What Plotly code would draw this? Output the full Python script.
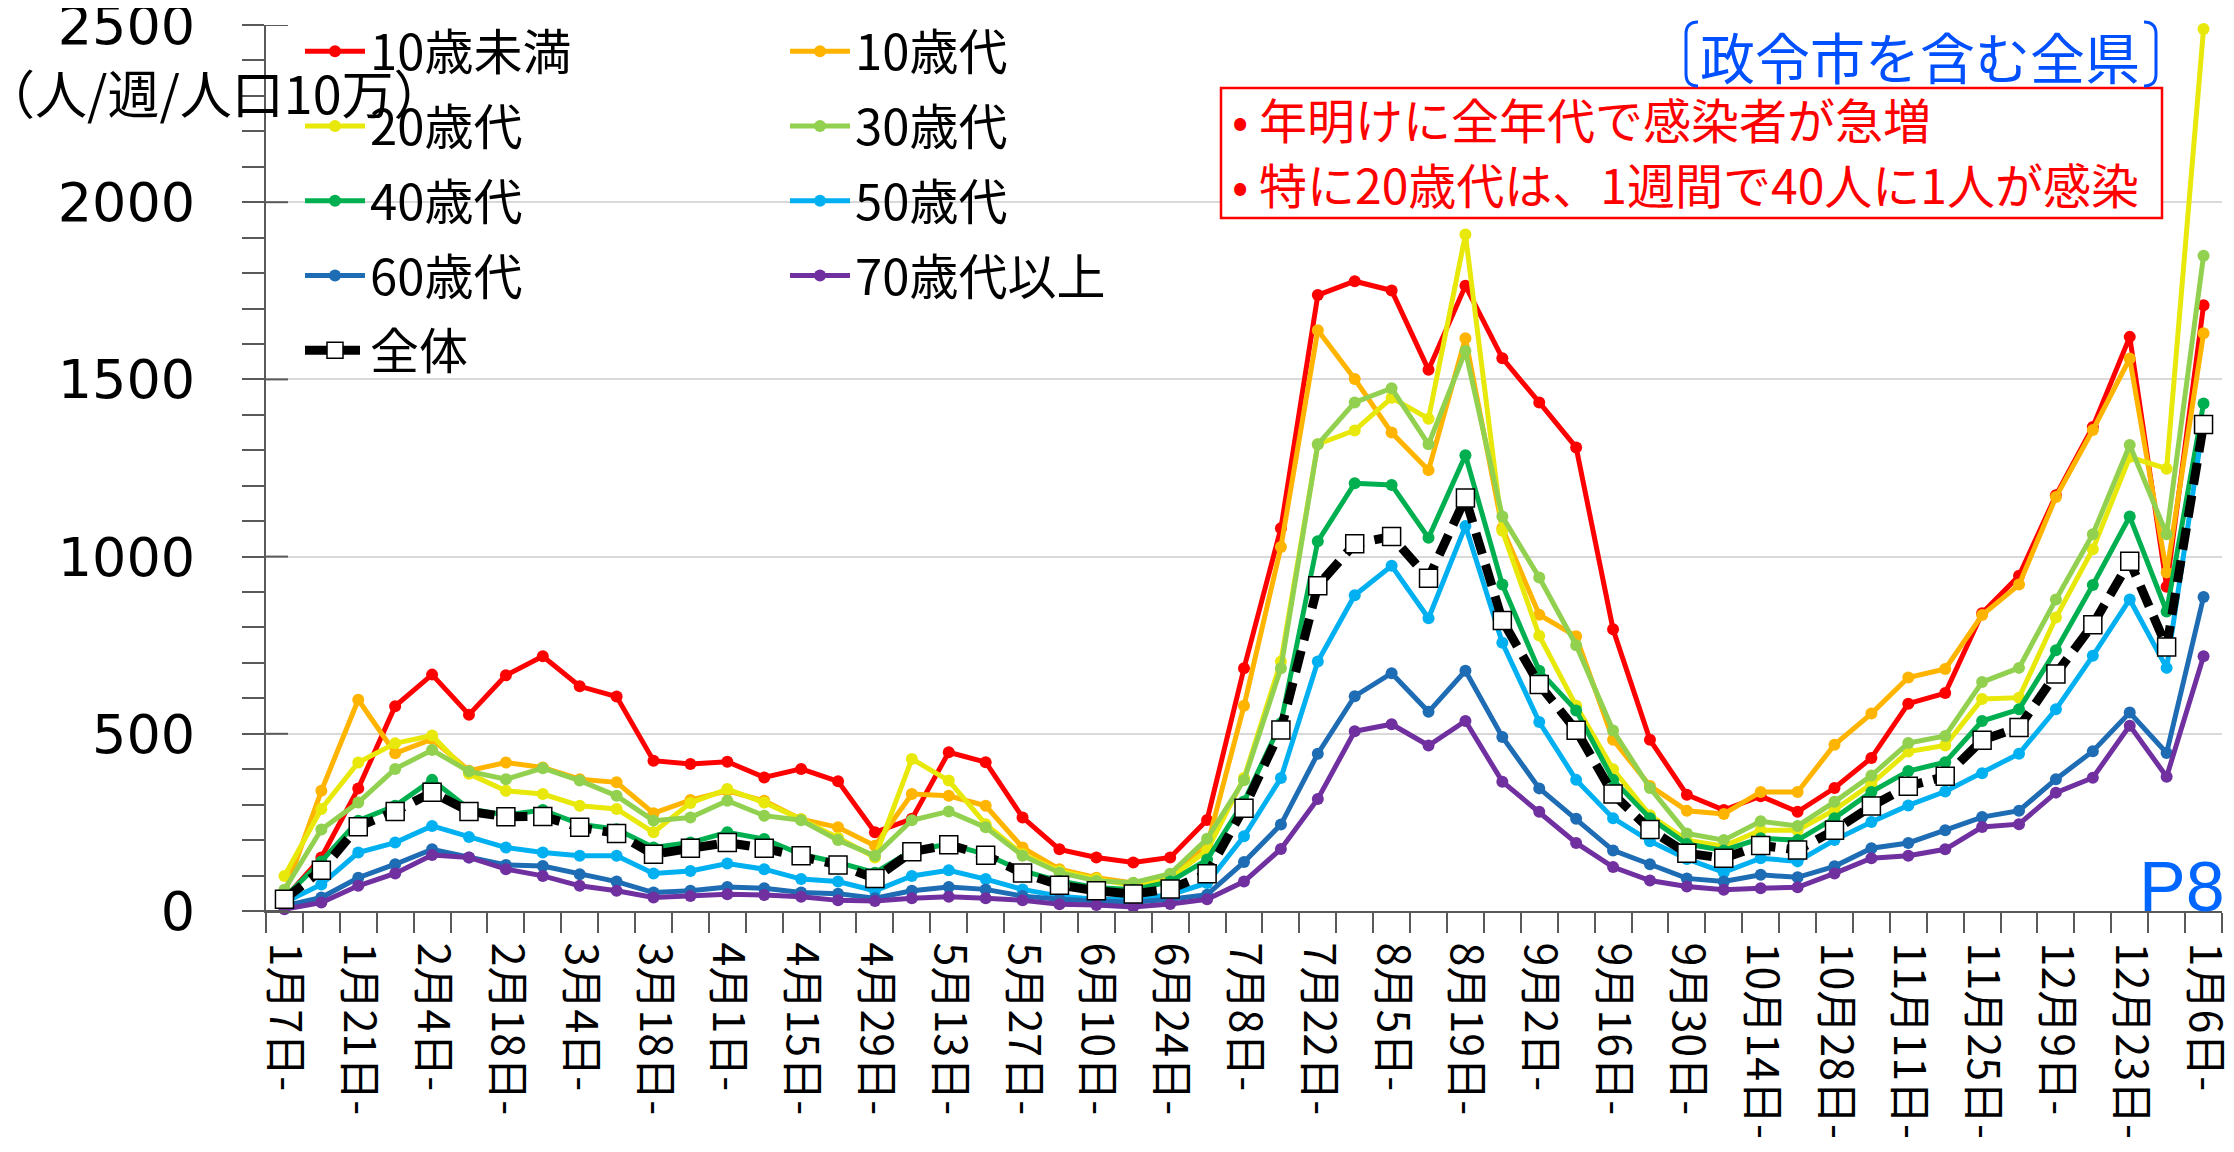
import plotly.graph_objects as go

# ---------------- data ----------------
weeks = ["1月7日-", "1月14日-", "1月21日-", "1月28日-", "2月4日-", "2月11日-", "2月18日-", "2月25日-",
         "3月4日-", "3月11日-", "3月18日-", "3月25日-", "4月1日-", "4月8日-", "4月15日-", "4月22日-",
         "4月29日-", "5月6日-", "5月13日-", "5月20日-", "5月27日-", "6月3日-", "6月10日-", "6月17日-",
         "6月24日-", "7月1日-", "7月8日-", "7月15日-", "7月22日-", "7月29日-", "8月5日-", "8月12日-",
         "8月19日-", "8月26日-", "9月2日-", "9月9日-", "9月16日-", "9月23日-", "9月30日-", "10月7日-",
         "10月14日-", "10月21日-", "10月28日-", "11月4日-", "11月11日-", "11月18日-", "11月25日-",
         "12月2日-", "12月9日-", "12月16日-", "12月23日-", "12月30日-", "1月6日-"]

age_under10 = [35, 151, 346, 578, 667, 554, 665, 719, 634, 605, 424, 415, 421, 377, 401, 366, 222, 260,
               448, 420, 264, 174, 151, 137, 151, 257, 685, 1080, 1738, 1777, 1751, 1527, 1764, 1560,
               1435, 1308, 795, 483, 328, 285, 324, 280, 347, 432, 585, 615, 840, 946, 1173, 1366, 1620,
               915, 1709]
age_10s = [50, 339, 596, 445, 485, 396, 419, 405, 372, 363, 276, 313, 339, 311, 259, 236, 184, 330, 325,
           297, 179, 118, 94, 79, 99, 184, 579, 1027, 1639, 1501, 1350, 1244, 1616, 1080, 836, 775, 483,
           353, 283, 274, 336, 336, 469, 557, 659, 683, 835, 921, 1168, 1357, 1559, 955, 1630]
age_20s = [99, 288, 419, 473, 495, 387, 339, 330, 297, 288, 222, 305, 344, 306, 259, 207, 151, 429, 368,
           245, 160, 113, 90, 72, 92, 171, 375, 704, 1317, 1356, 1448, 1389, 1909, 1073, 777, 579, 400,
           270, 200, 183, 228, 228, 285, 359, 450, 467, 598, 602, 828, 1021, 1281, 1248, 2489]
age_30s = [60, 230, 306, 401, 454, 394, 372, 403, 368, 325, 255, 264, 311, 269, 256, 200, 156, 256, 281,
           236, 156, 108, 85, 80, 105, 204, 369, 685, 1317, 1435, 1475, 1317, 1580, 1113, 941, 750, 509,
           347, 219, 200, 253, 240, 308, 382, 474, 494, 646, 686, 879, 1063, 1315, 1063, 1849]
age_40s = [38, 140, 255, 297, 370, 288, 271, 285, 245, 231, 179, 193, 222, 203, 160, 137, 108, 170, 189,
           160, 113, 85, 66, 60, 83, 145, 309, 530, 1043, 1207, 1202, 1053, 1286, 921, 678, 566, 370,
           262, 189, 171, 205, 200, 262, 336, 395, 420, 536, 569, 736, 920, 1113, 845, 1432]
age_50s = [24, 75, 165, 193, 240, 209, 179, 165, 156, 156, 106, 113, 134, 118, 90, 83, 57, 99, 115, 90,
           61, 42, 33, 34, 46, 79, 211, 375, 704, 891, 974, 826, 1086, 757, 533, 370, 262, 197, 147,
           109, 149, 140, 200, 251, 298, 337, 389, 444, 569, 720, 879, 686, 1380]
age_60s = [14, 38, 94, 132, 174, 151, 130, 127, 104, 83, 52, 57, 68, 64, 52, 49, 36, 57, 68, 61, 42, 33,
           28, 25, 33, 46, 138, 244, 444, 606, 671, 562, 678, 491, 346, 260, 171, 132, 92, 83, 102, 95,
           126, 177, 192, 228, 265, 283, 372, 451, 560, 446, 886]
age_70plus = [5, 24, 71, 106, 158, 151, 118, 99, 71, 57, 38, 42, 47, 45, 40, 30, 28, 36, 40, 36, 30, 19,
              17, 11, 20, 33, 83, 175, 316, 507, 527, 467, 536, 365, 280, 192, 124, 86, 69, 60, 64, 67,
              106, 149, 156, 174, 237, 245, 334, 376, 523, 379, 719]
overall = [33, 115, 238, 281, 335, 281, 266, 267, 236, 219, 160, 177, 193, 177, 156, 130, 92, 167, 187,
           157, 107, 73, 57, 48, 62, 105, 290, 511, 918, 1036, 1057, 939, 1165, 820, 639, 510, 330, 230,
           163, 149, 185, 172, 228, 296, 352, 380, 482, 518, 669, 808, 987, 745, 1373]

series_names = ["10歳未満", "10歳代", "20歳代", "30歳代", "40歳代", "50歳代", "60歳代", "70歳代以上"]
series_values = [age_under10, age_10s, age_20s, age_30s, age_40s, age_50s, age_60s, age_70plus]
series_colors = ["#FF0000", "#FFB400", "#E8E80A", "#92D050", "#00B050", "#00B0F0", "#1E6CB4", "#7030A0"]
series_legend = ["legend", "legend2", "legend", "legend2", "legend", "legend2", "legend", "legend2"]

y_ticks = [0, 500, 1000, 1500, 2000, 2500]

# ---------------- geometry ----------------
# The page body has an 8px default margin, so the figure is made 16px smaller
# and all positions below are given in screen pixels (converted with OFF).
OFF = 8
W, H = 2234 - 2 * OFF, 1152 - 2 * OFF
ML, MR, MT, MB = 258, 4, 17, 233
PW, PH = W - ML - MR, H - MT - MB


def px(x):
    return (x - OFF - ML) / PW


def py(y):
    return (H - MB - (y - OFF)) / PH


idx = list(range(len(weeks)))

fig = go.Figure()
for name, vals, col, lg in zip(series_names, series_values, series_colors, series_legend):
    fig.add_trace(go.Scatter(
        x=idx, y=vals, name=name, mode="lines+markers",
        line=dict(color=col, width=5),
        marker=dict(color=col, size=12, symbol="circle"),
        legend=lg, legendgroup=name, cliponaxis=False,
        hovertext=weeks,
    ))

fig.add_trace(go.Scatter(
    x=idx, y=overall, name="全体", mode="lines+markers",
    line=dict(color="black", width=9, dash="22px,11px"),
    marker=dict(color="white", size=18, symbol="square", line=dict(color="black", width=1.5)),
    legend="legend", legendgroup="全体", cliponaxis=False,
    hovertext=weeks,
))

legend_common = dict(
    font=dict(family="Noto Sans CJK JP", size=49, color="black"),
    bgcolor="rgba(0,0,0,0)", borderwidth=0,
    traceorder="grouped", tracegroupgap=8,
    itemwidth=60, yanchor="top", xanchor="left",
)

fig.update_layout(
    width=W, height=H, autosize=False,
    margin=dict(l=ML, r=MR, t=MT, b=MB, pad=0, autoexpand=False),
    paper_bgcolor="white", plot_bgcolor="white",
    font=dict(family="Noto Sans CJK JP", color="black"),
    showlegend=True,
    legend=dict(x=px(300), y=py(13), **legend_common),
    legend2=dict(x=px(785), y=py(13), **legend_common),
    xaxis=dict(
        range=[-0.5, len(weeks) - 0.5], automargin=False,
        tickmode="array", tickvals=idx[::2], ticktext=weeks[::2],
        ticks="", tickangle=90, ticklabelstandoff=21, ticklabeloverflow="allow",
        tickfont=dict(family="Noto Sans CJK JP", size=43, color="black"),
        showgrid=False, zeroline=False,
        showline=True, linecolor="#595959", linewidth=2,
        minor=dict(tickmode="array", tickvals=[i - 0.5 for i in range(len(weeks) + 1)],
                   ticks="outside", ticklen=20, tickwidth=2, tickcolor="#595959", showgrid=False),
    ),
    yaxis=dict(
        range=[0, 2500], automargin=False,
        tickmode="array", tickvals=y_ticks,
        ticks="outside", ticklen=22, tickwidth=2, tickcolor="#595959",
        ticklabelstandoff=36, ticklabeloverflow="allow",
        tickfont=dict(family="DejaVu Sans", size=54, color="black"),
        showgrid=True, gridcolor="#D9D9D9", gridwidth=1.5,
        zeroline=False,
        showline=True, linecolor="#595959", linewidth=2,
        minor=dict(dtick=100, tick0=0, ticks="outside", ticklen=22, tickwidth=2,
                   tickcolor="#595959", showgrid=False),
    ),
)

# major y ticks crossing into the plot area
for v in y_ticks:
    fig.add_shape(type="line", xref="paper", yref="y", x0=0, x1=22 / PW, y0=v, y1=v,
                  line=dict(color="#595959", width=2), layer="above")

# red note box
fig.add_shape(type="rect", xref="paper", yref="paper",
              x0=px(1221), x1=px(2162), y0=py(218), y1=py(88),
              line=dict(color="#FF0000", width=2.5), fillcolor="white", layer="above")

# blue bracket around region label
bl, br, bt, bb, r = 1686, 2156, 22, 86, 12
left_path = (f"M {px(bl + r)},{py(bt)} Q {px(bl)},{py(bt)} {px(bl)},{py(bt + r)} "
             f"L {px(bl)},{py(bb - r)} Q {px(bl)},{py(bb)} {px(bl + r)},{py(bb)}")
right_path = (f"M {px(br - r)},{py(bt)} Q {px(br)},{py(bt)} {px(br)},{py(bt + r)} "
              f"L {px(br)},{py(bb - r)} Q {px(br)},{py(bb)} {px(br - r)},{py(bb)}")
for p in (left_path, right_path):
    fig.add_shape(type="path", xref="paper", yref="paper", path=p,
                  line=dict(color="#0050FF", width=3), layer="above")

fig.add_annotation(xref="paper", yref="paper", x=px(1920), y=py(55),
                   text="政令市を含む全県", showarrow=False, xanchor="center", yanchor="middle",
                   font=dict(family="Noto Sans CJK JP", size=55, color="#0050FF"))

fig.add_annotation(xref="paper", yref="paper", x=px(1230), y=py(118),
                   text="• 年明けに全年代で感染者が急増", showarrow=False,
                   xanchor="left", yanchor="middle",
                   font=dict(family="Noto Sans CJK JP", size=48, color="#FF0000"))
fig.add_annotation(xref="paper", yref="paper", x=px(1230), y=py(183),
                   text="• 特に20歳代は、1週間で40人に1人が感染", showarrow=False,
                   xanchor="left", yanchor="middle",
                   font=dict(family="Noto Sans CJK JP", size=48, color="#FF0000"))

fig.add_annotation(xref="paper", yref="paper", x=px(-19), y=py(91),
                   text="（人/週/人口10万）", showarrow=False, xanchor="left", yanchor="middle",
                   font=dict(family="Noto Sans CJK JP", size=52, color="black"))

fig.add_annotation(xref="paper", yref="paper", x=px(2227), y=py(887),
                   text="P8", showarrow=False, xanchor="right", yanchor="middle",
                   font=dict(family="Liberation Sans", size=70, color="#0066FF"))

fig.write_html("out.html")
